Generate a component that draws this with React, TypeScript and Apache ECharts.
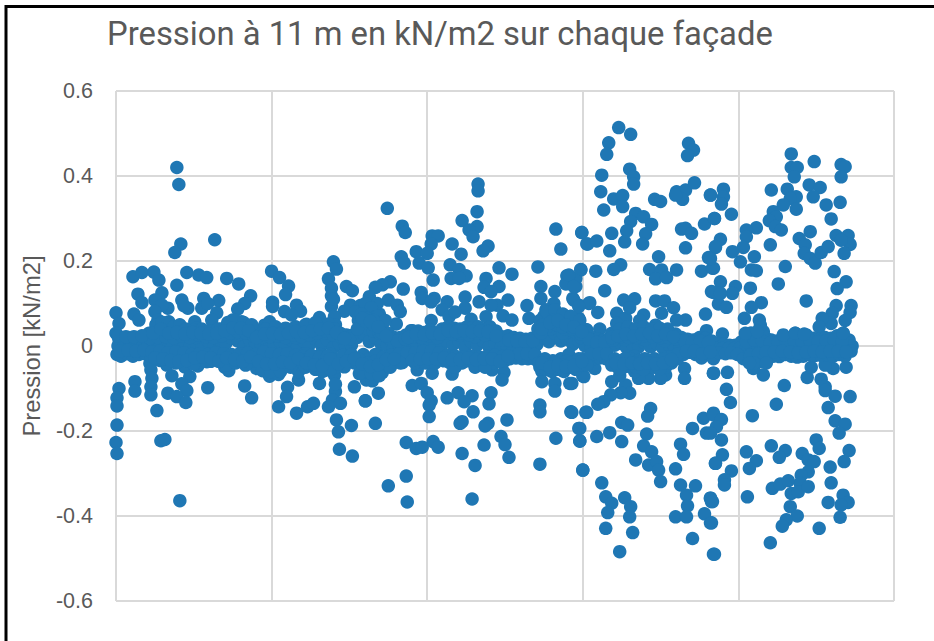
import React, { useEffect, useRef } from "react";
import * as echarts from "echarts";

const chartTitle = "Pression à 11 m en kN/m2 sur chaque façade";
const yAxisTitle = "Pression [kN/m2]";
const yMin = -0.6;
const yMax = 0.6;
const yStep = 0.2;
const xMin = 0;
const xMax = 780;
const xStep = 156;

const upperLeft: [number, number][] = [
  [61,.42],[63,.38],[65,.24],[59,.22],[99,.25],[17,.163],[26,.173],[38,.174],[43,.155],[71,.173],[83,.167],[91,.161],[111,.159],[123,.146],[61,.143],[156,.176],[164,.161],[173,.141],[170,.121],[218,.198],[221,.181],[213,.158],[231,.14],[237,.13],[216,.136],[216,.118],[22,.122],[26,.102],[46,.125],[39,.108],[66,.108],[88,.112],[103,.107],[135,.118],[129,.1],[122,.087],[72,.089],[86,.089],[52,.089],[46,.096],[39,.081],[101,.078],[96,.061],[0,.078],[3,.053],[18,.075],[23,.061],[42,.061],[53,.057],[157,.103],[157,.093],[169,.081],[181,.096],[185,.082],[176,.073],[235,.096],[229,.082],[216,.093],[219,.069],[204,.067],[191,.051],[149,.049],[154,.057],[117,.061],[126,.057],[134,.042],[79,.057],[68,.095],[92,.1],[218,.11],[220,.05],[210,.04],
];
const lowerLeft: [number, number][] = [
  [34,-.041],[35,-.056],[36,-.076],[35,-.096],[35,-.115],[19,-.084],[19,-.106],[3,-.1],[1,-.122],[1,-.141],[41,-.152],[1,-.186],[0,-.227],[1,-.253],[45,-.223],[49,-.22],[64,-.364],[51,-.045],[56,-.07],[69,-.049],[74,-.072],[66,-.089],[71,-.105],[52,-.111],[61,-.119],[70,-.133],[92,-.098],[82,-.047],[91,-.037],[109,-.05],[113,-.058],[129,-.094],[136,-.122],[141,-.053],[154,-.071],[163,-.067],[172,-.097],[171,-.119],[163,-.143],[181,-.158],[192,-.143],[198,-.135],[183,-.08],[204,-.088],[211,-.056],[219,-.068],[229,-.049],[220,-.107],[217,-.127],[225,-.135],[213,-.143],[221,-.174],[223,-.202],[236,-.187],[224,-.243],[237,-.259],[239,-.096],[250,-.129],[251,-.08],[183,-.06],[220,-.09],
];
const upperMiddle: [number, number][] = [
  [363,.381],[363,.365],[272,.324],[287,.282],[290,.267],[362,.316],[347,.295],[362,.281],[354,.273],[358,.257],[317,.259],[323,.259],[316,.24],[337,.24],[346,.216],[301,.222],[312,.218],[373,.235],[368,.224],[441,.275],[467,.267],[472,.24],[446,.228],[286,.21],[289,.195],[304,.195],[313,.184],[335,.191],[344,.18],[351,.165],[336,.159],[344,.159],[318,.155],[384,.184],[397,.169],[423,.186],[466,.18],[452,.165],[461,.159],[451,.146],[461,.14],[371,.159],[369,.138],[384,.14],[376,.128],[426,.14],[275,.151],[267,.144],[260,.138],[254,.116],[288,.134],[273,.108],[440,.128],[426,.112],[458,.112],[464,.096],[474,.1],[306,.126],[307,.112],[319,.112],[316,.104],[332,.104],[350,.115],[364,.104],[393,.108],[382,.096],[376,.096],[350,.089],[327,.085],[334,.069],[282,.096],[285,.081],[264,.075],[251,.085],[412,.095],[439,.1],[431,.085],[444,.069],[453,.069],[464,.065],[371,.069],[388,.071],[397,.061],[414,.065],[316,.06],[356,.063],[281,.052],[257,.045],[296,.036],[471,.038],[340,.08],[245,.095],[262,.1],[430,.07],[435,.05],
];
const lowerMiddle: [number, number][] = [
  [267,-.062],[302,-.056],[317,-.064],[337,-.066],[377,-.056],[389,-.062],[387,-.08],[287,-.039],[277,-.041],[427,-.06],[427,-.084],[440,-.088],[440,-.106],[455,-.088],[468,-.07],[257,-.082],[263,-.111],[250,-.129],[297,-.093],[306,-.088],[312,-.11],[316,-.129],[314,-.139],[314,-.166],[332,-.122],[343,-.11],[357,-.117],[349,-.131],[358,-.155],[376,-.11],[374,-.136],[425,-.139],[425,-.155],[456,-.155],[471,-.156],[260,-.182],[392,-.174],[347,-.178],[345,-.182],[373,-.182],[370,-.188],[465,-.194],[291,-.227],[301,-.241],[307,-.238],[318,-.225],[323,-.238],[386,-.213],[390,-.232],[369,-.233],[441,-.217],[465,-.223],[347,-.253],[394,-.262],[360,-.281],[425,-.278],[468,-.292],[291,-.306],[273,-.329],[292,-.367],[357,-.36],
];
const upperRightA: [number, number][] = [
  [504,.514],[516,.498],[494,.478],[492,.451],[574,.477],[579,.461],[573,.448],[515,.416],[519,.398],[519,.381],[487,.402],[486,.363],[489,.32],[499,.346],[508,.354],[508,.328],[540,.345],[546,.34],[562,.363],[571,.367],[580,.384],[568,.345],[561,.355],[596,.355],[521,.312],[529,.304],[537,.286],[516,.293],[512,.271],[510,.245],[531,.264],[528,.24],[467,.267],[473,.24],[482,.247],[497,.265],[495,.224],[590,.287],[600,.3],[567,.275],[571,.277],[577,.265],[571,.231],[601,.232],[544,.21],[594,.208],[506,.191],[499,.18],[535,.18],[547,.179],[562,.179],[541,.158],[552,.161],[587,.176],[598,.183],[466,.179],[481,.176],[460,.155],[454,.167],[459,.14],[490,.13],[597,.128],[459,.108],[475,.102],[483,.079],[464,.064],[464,.093],[509,.108],[520,.111],[541,.106],[550,.106],[559,.09],[591,.075],[547,.077],[529,.073],[502,.077],[511,.065],[571,.061],[562,.061],[502,.053],[485,.04],[472,.038],[541,.049],[592,.036],[515,.09],[525,.06],
];
const lowerRightA: [number, number][] = [
  [570,-.053],[570,-.076],[599,-.064],[551,-.068],[546,-.076],[534,-.076],[524,-.076],[469,-.072],[480,-.053],[457,-.088],[497,-.084],[511,-.092],[515,-.111],[506,-.11],[496,-.115],[489,-.131],[483,-.137],[457,-.156],[472,-.156],[536,-.147],[533,-.165],[589,-.17],[599,-.158],[507,-.18],[513,-.186],[495,-.204],[482,-.213],[464,-.194],[465,-.224],[507,-.225],[532,-.207],[529,-.235],[537,-.249],[521,-.268],[534,-.28],[542,-.272],[544,-.292],[546,-.319],[578,-.194],[592,-.205],[566,-.231],[569,-.255],[561,-.289],[601,-.276],[468,-.292],[487,-.322],[491,-.355],[497,-.37],[493,-.392],[510,-.357],[516,-.378],[515,-.402],[566,-.327],[572,-.351],[581,-.329],[573,-.376],[561,-.402],[572,-.402],[590,-.395],[596,-.358],[597,-.366],[596,-.416],[491,-.429],[518,-.439],[578,-.453],[505,-.484],[599,-.49],[505,-.07],[520,-.06],
];
const upperRightB: [number, number][] = [
  [677,.452],[700,.434],[727,.427],[731,.422],[727,.398],[677,.42],[683,.42],[680,.398],[657,.367],[673,.369],[695,.379],[706,.373],[699,.351],[682,.351],[676,.347],[712,.332],[726,.338],[669,.332],[682,.322],[659,.316],[662,.304],[717,.299],[655,.295],[661,.281],[667,.273],[609,.369],[609,.351],[607,.334],[596,.355],[617,.31],[600,.3],[642,.278],[632,.273],[632,.257],[606,.251],[601,.234],[629,.232],[618,.222],[626,.198],[640,.21],[656,.238],[696,.269],[685,.253],[691,.238],[690,.218],[696,.206],[701,.195],[707,.22],[714,.234],[722,.26],[734,.26],[736,.239],[730,.218],[727,.249],[671,.187],[637,.179],[642,.177],[599,.183],[596,.206],[720,.175],[732,.151],[723,.135],[664,.146],[606,.151],[636,.136],[621,.14],[618,.124],[599,.126],[604,.099],[612,.091],[606,.124],[692,.106],[647,.102],[637,.091],[630,.065],[645,.061],[646,.049],[737,.095],[736,.079],[731,.06],[722,.095],[718,.077],[717,.053],[708,.065],[705,.045],[608,.028],[636,.03],[649,.034],[669,.02],[681,.03],[692,.026],[729,.03],
];
const lowerRightB: [number, number][] = [
  [649,-.068],[639,-.053],[647,-.037],[613,-.062],[599,-.064],[612,-.102],[616,-.133],[670,-.093],[662,-.137],[638,-.164],[693,-.074],[697,-.05],[719,-.053],[711,-.045],[732,-.05],[707,-.078],[711,-.096],[711,-.105],[721,-.118],[736,-.119],[714,-.145],[721,-.176],[731,-.184],[725,-.205],[599,-.162],[607,-.173],[602,-.19],[596,-.205],[607,-.221],[657,-.235],[671,-.246],[665,-.262],[632,-.249],[642,-.27],[635,-.288],[702,-.221],[705,-.241],[688,-.253],[694,-.268],[700,-.272],[694,-.296],[687,-.304],[686,-.323],[735,-.246],[730,-.272],[716,-.285],[717,-.322],[608,-.256],[601,-.276],[617,-.294],[610,-.315],[610,-.327],[658,-.335],[666,-.325],[674,-.317],[677,-.347],[684,-.343],[694,-.331],[633,-.355],[596,-.358],[598,-.366],[729,-.351],[714,-.368],[734,-.368],[727,-.374],[726,-.403],[676,-.378],[683,-.4],[597,-.416],[672,-.409],[668,-.424],[705,-.429],[656,-.463],[600,-.49],
];
const bandTop: [number, number][] = [
  [0,.03],[3,.015],[9,.012],[15,.016],[21,.014],[27,.018],[33,.03],[39,.036],[45,.03],[51,.038],[57,.032],[63,.04],[69,.034],[75,.03],[81,.042],[87,.036],[93,.03],[99,.034],[105,.04],[111,.045],[117,.05],[123,.052],[129,.048],[135,.04],[141,.03],[147,.032],[153,.036],[159,.04],[165,.033],[171,.036],[177,.04],[183,.036],[189,.042],[195,.04],[201,.048],[207,.05],[213,.052],[219,.04],[225,.03],[231,.026],[237,.025],[243,.06],[249,.085],[255,.07],[261,.06],[267,.05],[273,.03],[279,.02],[285,.02],[291,.026],[297,.036],[303,.035],[309,.032],[315,.038],[321,.03],[327,.04],[333,.045],[339,.042],[345,.04],[351,.044],[357,.042],[363,.045],[369,.04],[375,.045],[381,.035],[387,.022],[393,.024],[399,.02],[405,.018],[411,.016],[417,.018],[423,.04],[429,.07],[435,.065],[441,.07],[447,.06],[453,.05],[459,.055],[465,.04],[471,.03],[477,.02],[483,.016],[489,.014],[495,.018],[501,.03],[507,.036],[513,.032],[519,.03],[525,.035],[531,.03],[537,.038],[543,.03],[549,.034],[555,.03],[561,.028],[567,.02],[573,.016],[579,.014],[585,.02],[591,.018],[597,.012],[603,.006],[609,.004],[615,.002],[621,.002],[627,.01],[633,.02],[639,.024],[645,.022],[651,.02],[657,.014],[663,.012],[669,.018],[675,.016],[681,.022],[687,.016],[693,.022],[699,.018],[705,.016],[711,.02],[717,.018],[723,.024],[729,.02],[735,.014],
];
const bandCentre: [number, number][] = [
  [2,0],[8,.002],[14,-.002],[20,.001],[26,-.003],[32,.004],[38,.006],[44,.002],[50,.008],[56,-.004],[62,.01],[68,.004],[74,-.002],[80,.008],[86,.002],[92,.012],[98,-.004],[104,.01],[110,.006],[116,.018],[122,.012],[128,-.002],[134,.014],[140,.006],[146,.002],[152,.01],[158,-.002],[164,.012],[170,.004],[176,.014],[182,-.003],[188,.012],[194,.004],[200,.016],[206,.002],[212,.014],[218,-.004],[224,.006],[230,.001],[236,.002],[242,.02],[248,.03],[254,.01],[260,.02],[266,.004],[272,.002],[278,-.006],[284,.002],[290,.003],[296,.01],[302,.004],[308,.012],[314,.001],[320,.008],[326,-.002],[332,.012],[338,.004],[344,.01],[350,-.003],[356,.01],[362,.002],[368,.012],[374,-.002],[380,.006],[386,-.002],[392,.002],[398,-.004],[404,.001],[410,-.003],[416,.002],[422,.004],[428,.02],[434,.01],[440,.03],[446,.012],[452,.016],[458,.004],[464,.012],[470,.001],[476,-.004],[482,-.003],[488,-.006],[494,-.002],[500,.002],[506,.006],[512,-.004],[518,.004],[524,-.002],[530,.008],[536,-.002],[542,.006],[548,-.004],[554,.004],[560,-.002],[566,-.002],[572,-.004],[578,-.002],[584,-.004],[590,-.002],[596,-.004],[602,-.006],[608,-.006],[614,-.006],[620,-.006],[626,-.004],[632,-.002],[638,-.006],[644,-.002],[650,-.004],[656,-.002],[662,-.004],[668,-.002],[674,-.004],[680,-.002],[686,-.003],[692,-.002],[698,-.003],[704,-.002],[710,-.002],[716,-.003],[722,-.002],[728,-.001],[734,-.002],[738,0],
];
const bandBottom: [number, number][] = [
  [1,-.02],[5,-.024],[11,-.018],[17,-.024],[23,-.02],[29,-.018],[35,-.024],[41,-.02],[47,-.022],[53,-.028],[59,-.025],[65,-.03],[71,-.026],[77,-.034],[83,-.03],[89,-.034],[95,-.022],[101,-.028],[107,-.03],[113,-.034],[119,-.026],[125,-.03],[131,-.028],[137,-.034],[143,-.03],[149,-.025],[155,-.03],[161,-.034],[167,-.028],[173,-.03],[179,-.036],[185,-.038],[191,-.032],[197,-.036],[203,-.04],[209,-.034],[215,-.04],[221,-.05],[227,-.036],[233,-.03],[239,-.04],[245,-.05],[251,-.06],[257,-.05],[263,-.055],[269,-.04],[275,-.035],[281,-.03],[287,-.025],[293,-.025],[299,-.028],[305,-.02],[311,-.022],[317,-.02],[323,-.025],[329,-.035],[335,-.04],[341,-.036],[347,-.04],[353,-.035],[359,-.038],[365,-.04],[371,-.036],[377,-.04],[383,-.03],[389,-.036],[395,-.03],[401,-.028],[407,-.03],[413,-.03],[419,-.03],[425,-.05],[431,-.055],[437,-.06],[443,-.055],[449,-.06],[455,-.05],[461,-.055],[467,-.045],[473,-.03],[479,-.03],[485,-.028],[491,-.03],[497,-.034],[503,-.05],[509,-.05],[515,-.048],[521,-.05],[527,-.045],[533,-.05],[539,-.05],[545,-.045],[551,-.05],[557,-.04],[563,-.03],[569,-.02],[575,-.015],[581,-.02],[587,-.028],[593,-.02],[599,-.03],[605,-.016],[611,-.018],[617,-.016],[623,-.02],[629,-.03],[635,-.036],[641,-.03],[647,-.028],[653,-.025],[659,-.024],[665,-.025],[671,-.02],[677,-.024],[683,-.026],[689,-.024],[695,-.02],[701,-.022],[707,-.022],[713,-.02],[719,-.024],[725,-.02],[731,-.024],[737,-.012],
];
const bandExtra: [number, number][] = [
  [246,.05],[252,.04],[258,.035],[264,.03],[248,-.02],[254,-.03],[260,-.02],[430,.045],[436,.04],[442,.05],[448,.03],[430,-.03],[438,-.035],[446,-.03],[454,-.02],[466,.02],[120,.03],[210,.03],[205,-.02],[215,-.02],[330,.025],[345,.025],[360,.022],[510,.015],[520,-.025],[530,.015],[540,-.03],[550,.012],[180,.02],[190,-.018],[80,.02],[100,-.015],
];
const bandFillUpper: [number, number][] = [
  [34,.018],[42,.02],[50,.022],[58,.019],[66,.024],[74,.02],[82,.026],[90,.022],[98,.02],[106,.024],[114,.03],[122,.034],[130,.03],[138,.024],[146,.02],[154,.022],[162,.024],[170,.02],[178,.026],[186,.022],[194,.026],[202,.03],[210,.036],[218,.026],[226,.02],[234,.016],[242,.04],[250,.058],[258,.05],[266,.032],[274,.018],[282,.012],[290,.016],[298,.022],[306,.02],[314,.024],[322,.02],[330,.03],[338,.028],[346,.03],[354,.026],[362,.03],[370,.026],[378,.028],[386,.014],[394,.014],[402,.012],[410,.01],[418,.012],[426,.03],[434,.048],[442,.05],[450,.04],[458,.036],[466,.028],[474,.016],[482,.008],[490,.008],[498,.014],[506,.022],[514,.02],[522,.02],[530,.024],[538,.022],[546,.02],[554,.02],[562,.016],[570,.012],[578,.008],[586,.012],[594,.008],[632,.01],[640,.014],[648,.012],[656,.008],[664,.008],[672,.01],[680,.012],[688,.01],[696,.012],[704,.01],[712,.012],[720,.014],[728,.012],
];
const bandFillLower: [number, number][] = [
  [4,-.012],[12,-.01],[20,-.012],[28,-.01],[36,-.014],[44,-.012],[52,-.016],[60,-.014],[68,-.016],[76,-.02],[84,-.018],[92,-.02],[100,-.016],[108,-.018],[116,-.02],[124,-.018],[132,-.016],[140,-.02],[148,-.014],[156,-.018],[164,-.02],[172,-.018],[180,-.022],[188,-.024],[196,-.022],[204,-.026],[212,-.024],[220,-.032],[228,-.022],[236,-.02],[244,-.032],[252,-.04],[260,-.036],[268,-.026],[276,-.022],[284,-.018],[292,-.016],[300,-.016],[308,-.012],[316,-.012],[324,-.016],[332,-.022],[340,-.024],[348,-.026],[356,-.024],[364,-.026],[372,-.024],[380,-.022],[388,-.024],[396,-.018],[404,-.018],[412,-.018],[420,-.02],[428,-.034],[436,-.042],[444,-.036],[452,-.036],[460,-.036],[468,-.03],[476,-.02],[484,-.018],[492,-.018],[500,-.03],[508,-.034],[516,-.03],[524,-.034],[532,-.032],[540,-.034],[548,-.03],[556,-.026],[564,-.018],[572,-.012],[580,-.012],[588,-.018],[596,-.014],[636,-.022],[644,-.018],[652,-.014],[660,-.014],[668,-.012],[676,-.014],[684,-.016],[692,-.014],[700,-.012],[708,-.014],[716,-.012],[724,-.012],[732,-.014],
];
const bandOuterUpper: [number, number][] = [
  [2,.024],[10,.022],[18,.022],[26,.024],[40,.05],[46,.056],[52,.05],[58,.045],[64,.05],[70,.04],[78,.038],[86,.04],[94,.036],[102,.04],[112,.055],[120,.06],[128,.055],[136,.05],[150,.04],[160,.045],[170,.042],[180,.045],[190,.05],[200,.055],[240,.08],[250,.1],[256,.09],[246,.075],[262,.07],[270,.06],[252,.065],[258,.06],[425,.06],[432,.08],[440,.085],[448,.075],[456,.07],[465,.06],[438,.06],[448,.045],[458,.04],[428,.05],[497,.03],[505,.04],[513,.045],[521,.04],[529,.045],[537,.04],[545,.042],[553,.04],[497,.02],[637,.03],[631,.03],[643,.034],[669,.026],[681,.03],[690,.028],[729,.03],
];
const bandOuterLower: [number, number][] = [
  [44,-.034],[60,-.04],[78,-.042],[95,-.036],[110,-.045],[120,-.04],[130,-.045],[147,-.058],[155,-.06],[165,-.06],[175,-.05],[190,-.05],[200,-.055],[207,-.06],[215,-.055],[244,-.065],[256,-.065],[264,-.07],[275,-.05],[285,-.04],[300,-.04],[310,-.04],[320,-.04],[340,-.05],[360,-.05],[370,-.05],[424,-.04],[432,-.045],[440,-.04],[448,-.045],[456,-.04],[464,-.03],[472,-.045],[497,-.045],[505,-.055],[513,-.04],[521,-.04],[529,-.055],[537,-.04],[545,-.055],[553,-.04],[510,-.03],[530,-.03],[550,-.03],[640,-.04],[652,-.04],[635,-.04],
];
const bandGapUpper: [number, number][] = [
  [37,.03],[45,.04],[53,.03],[61,.032],[69,.028],[77,.032],[85,.03],[93,.028],[101,.03],[109,.036],[117,.042],[125,.042],[133,.036],[141,.02],[149,.028],[157,.03],[165,.028],[173,.03],[181,.034],[189,.032],[197,.036],[205,.04],[213,.042],[221,.032],[229,.018],[247,.065],[255,.058],[263,.045],[271,.024],[293,.02],[301,.028],[309,.026],[317,.03],[325,.028],[333,.036],[341,.034],[349,.036],[357,.034],[365,.036],[373,.034],[381,.024],[427,.04],[435,.055],[443,.06],[451,.05],[459,.045],[467,.034],[503,.024],[511,.028],[519,.024],[527,.028],[535,.03],[543,.024],[551,.028],[559,.022],
];
const bandGapLower: [number, number][] = [
  [39,-.028],[47,-.03],[55,-.034],[63,-.036],[71,-.034],[79,-.028],[87,-.026],[95,-.028],[103,-.036],[111,-.028],[119,-.032],[127,-.036],[135,-.026],[143,-.036],[151,-.042],[159,-.042],[167,-.038],[175,-.04],[183,-.03],[191,-.04],[199,-.044],[207,-.046],[215,-.03],[223,-.042],[231,-.036],[239,-.03],[247,-.042],[255,-.048],[263,-.044],[271,-.032],[279,-.03],[297,-.034],[305,-.03],[313,-.03],[321,-.03],[329,-.028],[337,-.032],[345,-.032],[353,-.028],[361,-.032],[369,-.03],[377,-.03],[385,-.036],[393,-.024],[427,-.04],[435,-.05],[443,-.046],[451,-.048],[459,-.046],[467,-.036],[501,-.04],[509,-.042],[517,-.04],[525,-.042],[533,-.04],[541,-.042],[549,-.04],[557,-.032],
];

const allPoints = [
  ...upperLeft, ...lowerLeft, ...upperMiddle, ...lowerMiddle,
  ...upperRightA, ...lowerRightA, ...upperRightB, ...lowerRightB,
  ...bandTop, ...bandCentre, ...bandBottom, ...bandExtra,
  ...bandFillUpper, ...bandFillLower, ...bandOuterUpper, ...bandOuterLower,
  ...bandGapUpper, ...bandGapLower,
];

const grey = "#595959";
const gridColor = "#d9d9d9";
const pointColor = "#1f77b4";

export default function App() {
  const ref = useRef<HTMLDivElement>(null);
  useEffect(() => {
    if (!ref.current) return;
    const chart = echarts.init(ref.current, undefined, { renderer: "svg" });
    chart.setOption({
      animation: false,
      backgroundColor: "#ffffff",
      title: {
        text: chartTitle,
        left: 102,
        top: 12.5,
        textStyle: { color: grey, fontSize: 32.8, fontWeight: 400, fontFamily: "Roboto" },
      },
      grid: { left: 116, top: 91, width: 778, height: 510, containLabel: false },
      xAxis: {
        type: "value",
        min: xMin,
        max: xMax,
        interval: xStep,
        axisLabel: { show: false },
        axisTick: { show: false },
        axisLine: { show: false },
        splitLine: { show: true, lineStyle: { color: gridColor, width: 2 } },
      },
      yAxis: {
        type: "value",
        min: yMin,
        max: yMax,
        interval: yStep,
        name: yAxisTitle,
        nameLocation: "middle",
        nameGap: 73,
        nameRotate: 90,
        nameTextStyle: { color: grey, fontSize: 23.8, fontFamily: "Liberation Sans" },
        axisLine: { show: false },
        axisTick: { show: false },
        axisLabel: {
          color: grey,
          fontSize: 21.5,
          margin: 23,
          fontFamily: "Liberation Sans",
          formatter: (v: number) => String(Math.round(v * 10) / 10),
        },
        splitLine: { show: true, lineStyle: { color: gridColor, width: 2 } },
      },
      series: [
        {
          type: "scatter",
          data: allPoints,
          symbol: "circle",
          symbolSize: 13.5,
          itemStyle: { color: pointColor, opacity: 1 },
          clip: false,
        },
      ],
      graphic: [
        {
          type: "polyline",
          silent: true,
          shape: { points: [[6, 641], [6, 6.5], [934, 6.5]] },
          style: { stroke: "#000000", lineWidth: 3, fill: "none" },
        },
      ],
    });
    return () => chart.dispose();
  }, []);
  return (
    <div
      ref={ref}
      style={{ position: "absolute", left: 0, top: 0, width: 934, height: 641 }}
    />
  );
}
